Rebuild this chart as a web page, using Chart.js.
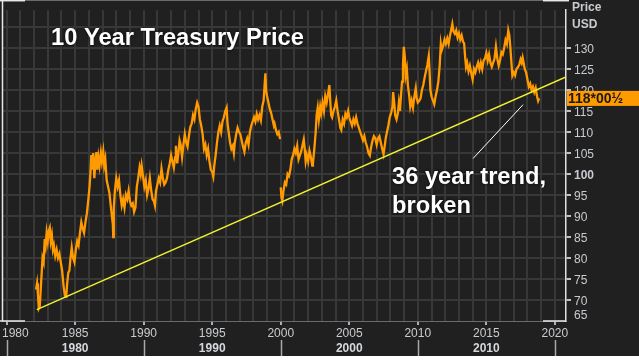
<!DOCTYPE html>
<html><head><meta charset="utf-8">
<script src="https://cdn.jsdelivr.net/npm/chart.js@4"></script>
<style>html,body{margin:0;padding:0;background:#fff;}canvas{display:block}</style>
</head><body>
<div style="width:639px;height:363px"><canvas id="c" width="639" height="363"></canvas></div>
<script>
const years = [
1982.15,1982.22,1982.28,1982.35,1982.42,1982.48,1982.55,1982.62,1982.70,1982.78,1982.85,1982.92,
1983.00,1983.08,1983.15,1983.22,1983.30,1983.38,1983.45,1983.55,1983.65,1983.75,1983.85,1983.95,
1984.05,1984.15,1984.25,1984.35,1984.42,1984.50,1984.58,1984.66,1984.75,1984.85,1984.95,
1985.05,1985.15,1985.25,1985.35,1985.45,1985.55,1985.65,1985.75,1985.85,1985.95,
1986.05,1986.12,1986.18,1986.25,1986.32,1986.40,1986.48,1986.55,1986.62,1986.70,1986.78,1986.88,1986.95,
1987.05,1987.12,1987.20,1987.30,1987.40,1987.50,1987.58,1987.68,1987.75,1987.78,1987.82,1987.90,
1988.0,1988.1,1988.2,1988.3,1988.4,1988.5,1988.6,1988.7,1988.8,1988.9,
1989.0,1989.1,1989.2,1989.3,1989.4,1989.5,1989.6,1989.7,1989.78,1989.85,1989.95,
1990.05,1990.15,1990.25,1990.35,1990.45,1990.55,1990.65,1990.75,1990.82,1990.9,
1991.0,1991.1,1991.2,1991.3,1991.4,1991.5,1991.6,1991.7,1991.8,1991.9,
1992.0,1992.1,1992.2,1992.3,1992.35,1992.45,1992.55,1992.62,1992.7,1992.8,1992.9,
1993.0,1993.1,1993.2,1993.3,1993.4,1993.5,1993.6,1993.7,1993.8,1993.9,
1994.0,1994.1,1994.2,1994.3,1994.4,1994.5,1994.6,1994.7,1994.8,1994.9,
1995.0,1995.08,1995.15,1995.25,1995.35,1995.45,1995.55,1995.65,1995.75,1995.85,1995.95,
1996.05,1996.12,1996.2,1996.3,1996.4,1996.5,1996.58,1996.65,1996.75,1996.85,1996.95,
1997.05,1997.15,1997.25,1997.35,1997.45,1997.55,1997.65,1997.75,1997.85,1997.95,
1998.05,1998.15,1998.25,1998.35,1998.45,1998.55,1998.65,1998.75,1998.82,1998.88,1998.93,
1999.0,1999.1,1999.2,1999.3,1999.4,1999.5,1999.55,1999.65,1999.75,1999.85,1999.95,1999.98,
2000.0,2000.05,2000.12,2000.2,2000.3,2000.4,2000.5,2000.6,2000.7,2000.8,2000.9,
2001.0,2001.1,2001.2,2001.3,2001.4,2001.5,2001.6,2001.68,2001.75,2001.82,2001.9,
2002.0,2002.1,2002.2,2002.3,2002.35,2002.45,2002.55,2002.62,2002.7,2002.78,2002.88,2002.95,
2003.05,2003.15,2003.25,2003.35,2003.45,2003.55,2003.6,2003.68,2003.75,2003.85,2003.95,
2004.05,2004.15,2004.25,2004.35,2004.42,2004.52,2004.62,2004.72,2004.82,2004.92,
2005.0,2005.1,2005.2,2005.3,2005.4,2005.5,2005.6,2005.7,2005.8,2005.9,
2006.0,2006.1,2006.2,2006.3,2006.4,2006.5,2006.6,2006.7,2006.8,2006.9,
2007.0,2007.1,2007.2,2007.3,2007.4,2007.5,2007.58,2007.66,2007.75,2007.85,2007.95,
2008.05,2008.15,2008.2,2008.28,2008.35,2008.45,2008.55,2008.62,2008.7,2008.78,2008.85,2008.92,2008.98,
2009.05,2009.12,2009.2,2009.28,2009.38,2009.45,2009.55,2009.65,2009.75,2009.85,2009.92,
2010.0,2010.1,2010.2,2010.3,2010.4,2010.5,2010.6,2010.7,2010.8,2010.85,2010.92,
2011.0,2011.1,2011.2,2011.3,2011.4,2011.5,2011.6,2011.68,2011.75,2011.85,2011.95,
2012.05,2012.15,2012.25,2012.35,2012.45,2012.52,2012.6,2012.7,2012.8,2012.9,
2013.0,2013.1,2013.2,2013.3,2013.38,2013.45,2013.52,2013.6,2013.7,2013.8,2013.9,
2014.0,2014.1,2014.2,2014.3,2014.4,2014.5,2014.6,2014.7,2014.8,2014.9,
2015.0,2015.1,2015.2,2015.3,2015.4,2015.5,2015.6,2015.7,2015.8,2015.9,
2016.0,2016.1,2016.2,2016.3,2016.4,2016.5,2016.6,2016.68,2016.75,2016.82,2016.9,
2017.0,2017.1,2017.2,2017.3,2017.4,2017.5,2017.58,2017.65,2017.72,2017.8,2017.9,
2018.0,2018.1,2018.2,2018.3,2018.4,2018.5,2018.6,2018.7,2018.78,2018.85
];
const prices = [
72.5,74.0,71.5,68.0,68.5,72.0,76.0,80.0,79.0,84.5,83.0,86.0,
84.0,86.5,87.2,84.0,85.5,82.0,83.0,80.5,82.0,80.0,81.0,79.0,
77.0,73.5,71.0,70.8,74.0,76.5,77.0,80.0,82.5,80.0,79.0,
82.0,84.0,83.0,86.0,88.5,87.0,86.0,88.5,90.5,93.5,
97.0,100.5,104.5,101.0,105.0,99.0,103.0,105.2,101.0,104.0,102.0,105.0,103.0,
105.3,102.0,103.5,98.5,97.0,95.5,93.0,90.0,88.0,85.0,92.0,96.0,
99.0,97.0,98.5,95.0,92.5,94.0,92.0,95.0,94.0,96.0,
93.5,92.5,93.0,91.0,92.0,97.0,99.0,101.5,100.0,102.0,99.5,
97.0,98.5,95.0,96.5,99.0,96.0,94.0,93.5,92.5,96.0,
97.5,99.0,98.0,101.3,99.0,97.5,98.0,99.0,101.0,102.5,
104.5,103.0,101.5,104.0,106.7,102.5,105.5,108.0,107.0,104.0,107.0,
109.5,107.5,106.5,109.0,111.2,112.0,114.0,113.0,115.5,117.0,
116.0,113.0,111.5,109.5,106.0,107.0,104.5,106.0,103.0,101.0,
100.5,99.4,102.0,104.5,107.5,110.0,111.5,110.0,112.5,113.5,115.0,
115.8,112.0,110.0,107.5,106.0,106.7,105.0,107.5,109.5,111.0,110.0,
109.5,108.0,106.5,105.3,107.5,108.5,107.0,110.0,111.5,112.5,
113.5,112.5,114.3,113.0,114.0,112.8,116.0,117.5,121.0,124.0,120.0,
118.5,117.0,115.5,114.5,113.0,111.5,112.0,110.5,109.5,110.0,108.3,null,
96.8,94.5,93.6,96.0,98.0,97.5,100.0,99.5,101.0,103.5,104.5,
106.0,105.0,106.7,103.5,104.5,105.5,107.0,108.2,106.0,103.0,104.5,
103.0,105.5,104.0,102.0,102.5,106.0,110.0,114.0,115.8,113.0,116.0,114.5,
117.0,115.0,118.5,117.0,119.0,121.2,118.0,114.0,113.5,115.0,116.0,
117.5,115.0,113.0,111.0,110.5,113.0,112.0,114.3,113.5,115.0,
113.5,112.5,111.5,113.0,112.0,113.5,112.0,111.0,110.0,109.0,
108.0,109.0,107.5,106.5,105.0,104.4,106.5,108.0,109.0,108.5,
107.0,108.5,109.0,107.5,106.0,104.7,106.5,108.5,110.0,111.5,113.5,
114.5,116.0,119.5,117.0,114.0,113.0,114.5,117.0,115.0,119.0,122.0,126.0,130.3,
128.0,123.5,125.0,121.0,118.5,116.0,117.5,115.8,118.5,120.4,118.0,
117.0,117.4,118.0,120.0,121.2,123.0,124.5,126.0,128.1,125.0,120.0,
118.5,117.5,116.6,118.5,120.0,122.0,126.0,131.0,129.5,130.5,132.0,
131.0,132.3,131.0,133.0,134.5,135.7,134.0,133.4,134.2,132.5,
133.5,132.0,133.0,131.5,131.1,128.0,125.5,126.5,124.5,125.8,124.0,
122.5,125.0,124.2,125.5,126.5,125.0,126.5,125.0,127.0,127.5,
128.8,127.0,128.5,126.5,125.5,126.5,127.5,130.3,127.5,125.8,
127.0,129.0,128.5,130.0,131.9,131.0,134.2,133.0,130.3,127.0,123.4,
124.2,123.5,125.0,125.4,126.0,127.3,126.5,127.7,126.5,125.0,124.2,
122.5,120.8,121.5,120.0,120.8,119.5,120.5,118.5,117.4,118.0
];
const trendYears = [1982.2, 2020.81];
const trendValues = [67.7, 123.1];
const pointerYears = [2014.03, 2017.68];
const pointerValues = [103.7, 116.5];
const yearTicks = [];
for (let y = 1980; y <= 2020; y++) yearTicks.push(y);
const priceTicks = [70,75,80,85,90,95,100,105,110,115,120,125,130,135];
const decadeStarts = [1980,1990,2000,2010,2020];
const decadeLabels = ['1980','1990','2000','2010'];
const lastPriceLabel = '118*00\u00BD';
const titleText = '10 Year Treasury Price';
const noteLines = ['36 year trend,', 'broken'];

const FONT = "'Liberation Sans', Arial, sans-serif";
const pair = (xs, ys) => xs.map((x, i) => ({x: x, y: ys[i]}));

const overlay = {
  id: 'overlay',
  beforeDraw(chart) {
    const c = chart.ctx;
    c.save();
    c.fillStyle = '#202020';
    c.fillRect(0, 0, chart.width, 356);
    c.fillStyle = '#ffffff';
    c.fillRect(0, 356, chart.width, chart.height - 356);
    c.restore();
  },
  afterDraw(chart) {
    const c = chart.ctx, a = chart.chartArea;
    const xs = chart.scales.x, ys = chart.scales.y;
    c.save();
    c.strokeStyle = '#6a6a6a'; c.lineWidth = 1;
    c.beginPath(); c.moveTo(a.left, 0.5); c.lineTo(a.right, 0.5); c.stroke();
    c.strokeStyle = '#e8e8e8'; c.lineWidth = 1.5;
    c.beginPath(); c.moveTo(a.left + 0.5, 0); c.lineTo(a.left + 0.5, a.bottom); c.stroke();
    c.beginPath(); c.moveTo(0, 0.7); c.lineTo(a.left + 23, 0.7); c.stroke();
    c.beginPath(); c.moveTo(0, a.bottom); c.lineTo(a.left + 23, a.bottom); c.stroke();
    c.beginPath(); c.moveTo(a.right - 23, a.bottom); c.lineTo(a.right, a.bottom); c.stroke();
    c.beginPath(); c.moveTo(a.right - 23, 0.7); c.lineTo(a.right + 3, 0.7); c.stroke();
    c.strokeStyle = '#a8a8a8'; c.lineWidth = 1.5;
    decadeStarts.forEach(d => {
      const px = Math.round(xs.getPixelForValue(d)) + 0.5;
      c.beginPath(); c.moveTo(px, 340); c.lineTo(px, 356); c.stroke();
    });
    c.fillStyle = '#d4d8dc';
    c.font = 'bold 12px ' + FONT;
    c.textAlign = 'center'; c.textBaseline = 'middle';
    decadeLabels.forEach((t, i) => {
      c.fillText(t, xs.getPixelForValue(decadeStarts[i] + 5), 348.5);
    });
    c.font = '12px ' + FONT;
    c.fillStyle = '#c8ccd0';
    c.textAlign = 'left';
    c.fillText(String(yearTicks[0]), 2, 333.5);
    c.fillText('65', a.right + 8, 315.5);
    c.font = 'bold 12px ' + FONT;
    c.fillText('Price', a.right + 6, 7.5);
    c.fillText('USD', a.right + 6, 25);
    const lastVal = prices[prices.length - 1];
    const py = ys.getPixelForValue(lastVal);
    c.fillStyle = '#ff9a00';
    c.fillRect(a.right + 1, py - 7.5, chart.width - a.right - 1, 15);
    c.fillStyle = '#1a1a1a';
    c.font = 'bold 14px ' + FONT;
    c.textBaseline = 'middle';
    c.fillText(lastPriceLabel, a.right + 2, py + 1);
    c.shadowColor = 'rgba(0,0,0,0.9)'; c.shadowBlur = 3;
    c.fillStyle = '#ffffff';
    c.font = 'bold 23.7px ' + FONT;
    c.textBaseline = 'alphabetic';
    c.fillText(titleText, 51, 45);
    c.fillText(noteLines[0], 392, 183.5);
    c.fillText(noteLines[1], 392, 212.5);
    c.restore();
  }
};

new Chart(document.getElementById('c'), {
  type: 'line',
  data: {
    datasets: [
      { data: pair(trendYears, trendValues), borderColor: '#f2f230', borderWidth: 1.4, pointRadius: 0, tension: 0 },
      { data: pair(pointerYears, pointerValues), borderColor: '#ffffff', borderWidth: 1, pointRadius: 0, tension: 0 },
      { data: pair(years, prices), borderColor: '#ff9a00', borderWidth: 2.3, pointRadius: 0, tension: 0, spanGaps: false }
    ]
  },
  options: {
    responsive: false,
    animation: false,
    devicePixelRatio: 1,
    events: [],
    layout: { padding: { left: 2, top: 0, right: 0, bottom: 0 } },
    plugins: { legend: { display: false }, tooltip: { enabled: false }, title: { display: false } },
    scales: {
      x: {
        type: 'linear',
        min: 1979.663, max: 2020.813,
        afterBuildTicks: s => { s.ticks = yearTicks.map(v => ({value: v})); },
        afterFit: s => { s.height = 42; },
        ticks: {
          autoSkip: false, maxRotation: 0, padding: 1,
          color: '#c8ccd0', font: { family: FONT, size: 12 },
          callback: v => (v % 5 === 0 && v !== yearTicks[0]) ? String(v) : ''
        },
        grid: {
          color: '#383838', lineWidth: 2, tickLength: 4,
          tickColor: ctx => (ctx.tick && ctx.tick.value % 5 === 0) ? '#b0b0b0' : 'rgba(0,0,0,0)'
        },
        border: { display: true, color: '#6a6a6a', width: 1 }
      },
      y: {
        position: 'right',
        min: 65, max: 139,
        afterBuildTicks: s => { s.ticks = priceTicks.map(v => ({value: v})); },
        afterFit: s => { s.width = 73; },
        ticks: {
          padding: 3, labelOffset: 2,
          color: '#c8ccd0',
          font: ctx => ({ family: FONT, size: 12, weight: (ctx.tick && ctx.tick.value === 100) ? 'bold' : 'normal' }),
          callback: v => v === priceTicks[priceTicks.length - 1] ? '' : String(v)
        },
        grid: {
          color: '#383838', lineWidth: 2, tickLength: 5,
          tickColor: ctx => (ctx.tick && ctx.tick.value === 135) ? 'rgba(0,0,0,0)' : '#c0c0c0'
        },
        border: { display: true, color: '#e0e0e0', width: 1.5 }
      }
    }
  },
  plugins: [overlay]
});
</script>
</body></html>
